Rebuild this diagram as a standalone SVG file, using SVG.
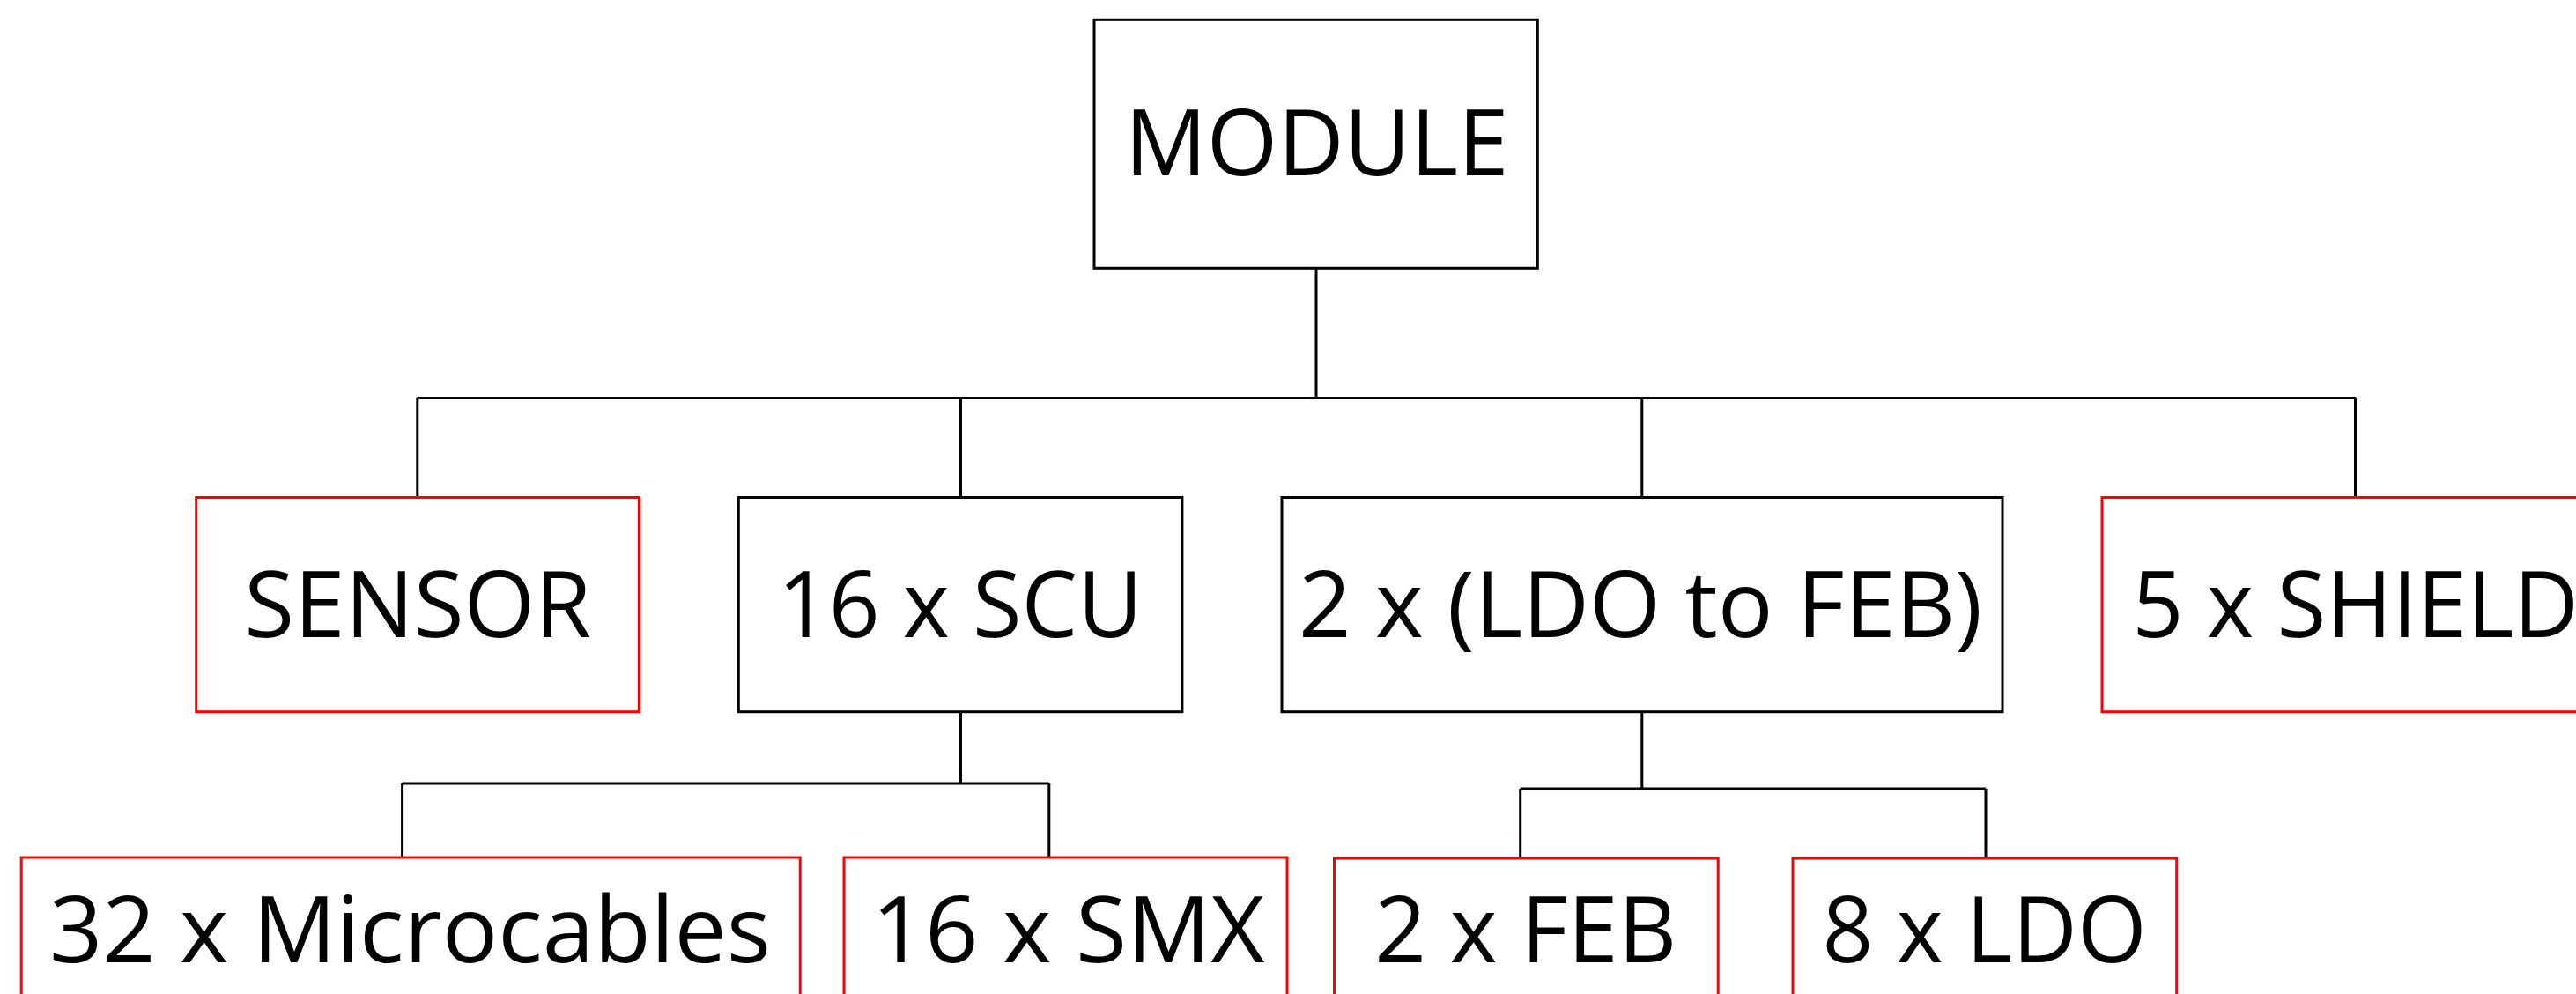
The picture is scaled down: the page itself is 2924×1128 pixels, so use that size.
<svg xmlns="http://www.w3.org/2000/svg" width="2924" height="1128" viewBox="0 0 2924 1128">
<style>
.box{fill:#ffffff;stroke-width:3}
.blk{stroke:#000000}
.red{stroke:#ff0000}
.lbl{font-family:"Open Sans","Noto Sans","Liberation Sans",sans-serif;font-size:104px;fill:#000000;text-anchor:middle}
.con{stroke:#000000;stroke-width:3;fill:none}
</style>
<rect width="2924" height="1128" fill="#ffffff"/>
<g id="connectors">
<line class="con" x1="1494" y1="304" x2="1494" y2="451.5"/>
<line class="con" x1="473.8" y1="451.5" x2="2673.5" y2="451.5"/>
<line class="con" x1="473.8" y1="451.5" x2="473.8" y2="564.5"/>
<line class="con" x1="1090.5" y1="451.5" x2="1090.5" y2="564.5"/>
<line class="con" x1="1863.8" y1="451.5" x2="1863.8" y2="564.5"/>
<line class="con" x1="2673.5" y1="451.5" x2="2673.5" y2="564.5"/>
<line class="con" x1="1090.5" y1="808" x2="1090.5" y2="889"/>
<line class="con" x1="456.6" y1="889" x2="1190.8" y2="889"/>
<line class="con" x1="456.6" y1="889" x2="456.6" y2="973"/>
<line class="con" x1="1190.8" y1="889" x2="1190.8" y2="973"/>
<line class="con" x1="1863.8" y1="808" x2="1863.8" y2="895"/>
<line class="con" x1="1725.7" y1="895" x2="2254" y2="895"/>
<line class="con" x1="1725.7" y1="895" x2="1725.7" y2="974"/>
<line class="con" x1="2254" y1="895" x2="2254" y2="974"/>
</g>
<g id="module">
<rect class="box blk" x="1242" y="22.3" width="503.3" height="282"/>
<text class="lbl" x="1494.7" y="199.3" textLength="436" lengthAdjust="spacingAndGlyphs">MODULE</text>
</g>
<g id="sensor">
<rect class="box red" x="222.7" y="564.5" width="502.8" height="243.2"/>
<text class="lbl" x="474.2" y="722.7" textLength="394" lengthAdjust="spacingAndGlyphs">SENSOR</text>
</g>
<g id="scu">
<rect class="box blk" x="838.3" y="564.5" width="503.6" height="243.2"/>
<text class="lbl" x="1089.9" y="722.7" textLength="414" lengthAdjust="spacingAndGlyphs">16 x SCU</text>
</g>
<g id="ldo-to-feb">
<rect class="box blk" x="1455" y="564.5" width="818" height="243.2"/>
<text class="lbl" x="1862.1" y="722.7" textLength="776" lengthAdjust="spacingAndGlyphs">2 x (LDO to FEB)</text>
</g>
<g id="shield">
<rect class="box red" x="2386" y="564.5" width="575" height="243.2"/>
<text class="lbl" x="2673.7" y="722.7" textLength="507" lengthAdjust="spacingAndGlyphs">5 x SHIELD</text>
</g>
<g id="microcables">
<rect class="box red" x="24.2" y="973" width="884" height="200"/>
<text class="lbl" x="465.5" y="1091.5" textLength="819" lengthAdjust="spacingAndGlyphs">32 x Microcables</text>
</g>
<g id="smx">
<rect class="box red" x="958" y="973" width="503" height="200"/>
<text class="lbl" x="1212.5" y="1091.5" textLength="446" lengthAdjust="spacingAndGlyphs">16 x SMX</text>
</g>
<g id="feb">
<rect class="box red" x="1514.5" y="974" width="435.7" height="200"/>
<text class="lbl" x="1731.7" y="1091.5" textLength="343" lengthAdjust="spacingAndGlyphs">2 x FEB</text>
</g>
<g id="ldo">
<rect class="box red" x="2035" y="974" width="435.7" height="200"/>
<text class="lbl" x="2252.6" y="1091.5" textLength="368" lengthAdjust="spacingAndGlyphs">8 x LDO</text>
</g>
</svg>
